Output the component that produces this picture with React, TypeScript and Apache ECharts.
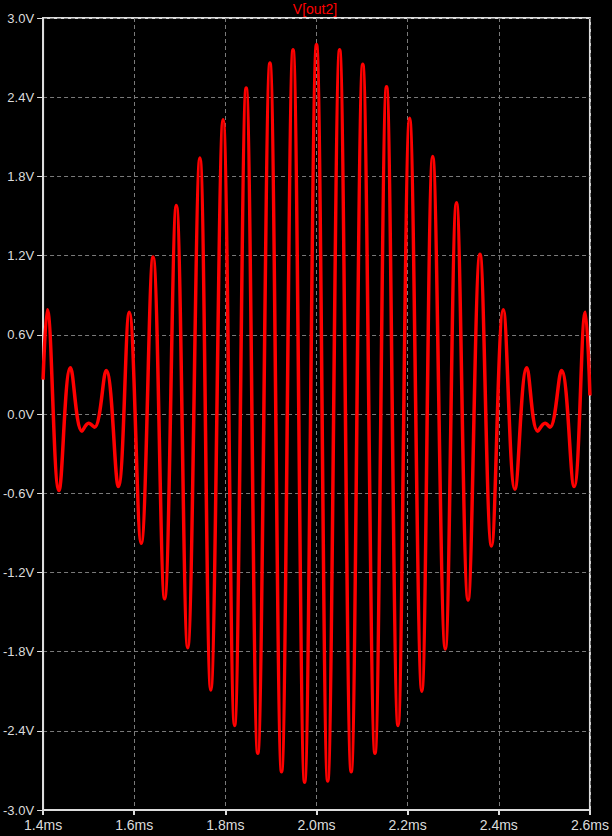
import React, { useEffect, useRef } from "react";
import * as echarts from "echarts";

// Extrema of V(out2) (time in ms, value in V)
const timeMs = [
  1.4, 1.4093, 1.4348, 1.4602, 1.4854, 1.5, 1.513, 1.5385, 1.5652, 1.5891,
  1.6152, 1.6413, 1.6667, 1.6924, 1.7174, 1.7441, 1.768, 1.795, 1.8202, 1.8457,
  1.8711, 1.8978, 1.9233, 1.9485, 1.9739, 2.0, 2.0246, 2.0507, 2.0761, 2.1015,
  2.1283, 2.1537, 2.1789, 2.2043, 2.2311, 2.255, 2.2826, 2.3072, 2.3326, 2.3587,
  2.3841, 2.4098, 2.4354, 2.4615, 2.4854, 2.5015, 2.5124, 2.5376, 2.5652, 2.5898,
  2.6,
];
const volts = [
  0.26, 0.79, -0.58, 0.35, -0.13, -0.07, -0.1, 0.33, -0.55, 0.77,
  -0.98, 1.19, -1.4, 1.58, -1.77, 1.94, -2.09, 2.23, -2.36, 2.47,
  -2.57, 2.66, -2.71, 2.76, -2.79, 2.8, -2.78, 2.76, -2.71, 2.65,
  -2.57, 2.48, -2.36, 2.24, -2.1, 1.95, -1.78, 1.6, -1.41, 1.21,
  -1.0, 0.79, -0.57, 0.35, -0.13, -0.07, -0.1, 0.33, -0.55, 0.77,
  0.14,
];

const seriesName = "V[out2]";
const xMin = 1.4;
const xMax = 2.6;
const xStep = 0.2;
const yMin = -3.0;
const yMax = 3.0;
const yStep = 0.6;

const AXIS = "#dcdcdc";
const GRID = "#7a7a7a";
const FONT = "'Liberation Sans', Arial, sans-serif";

export default function App() {
  const ref = useRef<HTMLDivElement>(null);

  useEffect(() => {
    if (!ref.current) return;
    const chart = echarts.init(ref.current, null, { renderer: "svg" });
    const data = timeMs.map((t, i) => [t, volts[i]]);
    chart.setOption({
      animation: false,
      backgroundColor: "#000000",
      grid: {
        left: 40,
        right: 20,
        top: 18,
        bottom: 26,
        show: true,
        borderColor: AXIS,
        borderWidth: 2,
        backgroundColor: "transparent",
      },
      graphic: [
        {
          type: "text",
          x: 315,
          y: 2,
          style: {
            text: seriesName,
            fill: "#ff0000",
            font: `14px ${FONT}`,
            textAlign: "center",
            textVerticalAlign: "top",
          },
        },
      ],
      xAxis: {
        type: "value",
        min: xMin,
        max: xMax,
        interval: xStep,
        axisLine: { show: true, onZero: false, lineStyle: { color: AXIS, width: 2 } },
        axisTick: { show: true, length: 5, lineStyle: { color: AXIS, width: 2 } },
        axisLabel: {
          color: AXIS,
          fontFamily: FONT,
          fontSize: 14,
          margin: 8,
          formatter: (v: number) => v.toFixed(1) + "ms",
        },
        splitLine: { show: true, lineStyle: { color: GRID, type: [4, 3], width: 1 } },
      },
      yAxis: {
        type: "value",
        min: yMin,
        max: yMax,
        interval: yStep,
        axisLine: { show: true, onZero: false, lineStyle: { color: AXIS, width: 2 } },
        axisTick: { show: true, length: 6, lineStyle: { color: AXIS, width: 1 } },
        axisLabel: {
          color: AXIS,
          fontFamily: FONT,
          fontSize: 13,
          margin: 9,
          formatter: (v: number) => v.toFixed(1) + "V",
        },
        splitLine: { show: true, lineStyle: { color: GRID, type: [4, 3], width: 1 } },
      },
      series: [
        {
          name: seriesName,
          type: "line",
          data,
          showSymbol: false,
          smooth: 0.4,
          lineStyle: { color: "#ff0000", width: 3.5 },
          clip: true,
        },
      ],
    });
    return () => chart.dispose();
  }, []);

  return (
    <div
      ref={ref}
      style={{
        position: "fixed",
        left: 0,
        top: 0,
        width: 612,
        height: 836,
        background: "#000000",
      }}
    />
  );
}
